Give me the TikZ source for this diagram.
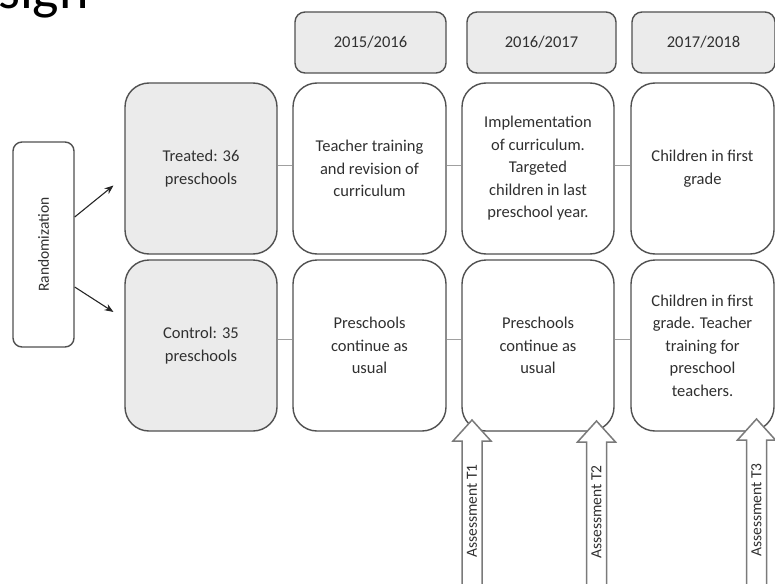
\documentclass[tikz,border=0pt]{standalone}
\usepackage{fontspec}
\setmainfont{Carlito}
\usetikzlibrary{arrows.meta}
\definecolor{bordc}{HTML}{505050}
\definecolor{grayfill}{HTML}{EBEBEB}
\definecolor{linkc}{HTML}{A0A0A0}
\definecolor{txtc}{HTML}{303030}
\definecolor{assc}{HTML}{7A7A7A}
\begin{document}
\begin{tikzpicture}[x=1pt,y=-1pt,
  txt/.style={text=txtc, font=\fontsize{16.5}{22.5}\selectfont},
  bigbox/.style={txt, draw=bordc, line width=1.4pt, rounded corners=24pt, align=center, inner sep=0pt, minimum height=171pt},
  graybox/.style={bigbox, fill=grayfill, minimum width=152pt},
  whitebox/.style={bigbox, fill=white},
  headbox/.style={txt, draw=bordc, line width=1.4pt, rounded corners=10pt, fill=grayfill, inner sep=0pt, minimum height=61pt},
  randbox/.style={txt, draw=bordc, line width=1.4pt, rounded corners=9pt, fill=white, inner sep=0pt, minimum width=61pt, minimum height=205pt},
  link/.style={draw=linkc, line width=1pt},
  splitarrow/.style={draw=black!85, line width=1.1pt, -{Stealth[length=9pt,width=7pt]}},
  assline/.style={draw=assc, line width=1.5pt, fill=white},
  asstxt/.style={text=txtc, font=\fontsize{15.5}{18}\selectfont, rotate=90},
  titletxt/.style={font=\fontsize{56}{60}\selectfont, text=black, inner sep=0pt}
]
\useasboundingbox (0,0) rectangle (775,583);
\clip (0,0) rectangle (775,583);

% title fragment
\node[titletxt, anchor=base west] (title) at (-2,9) {sign};

% header boxes
\node[headbox, minimum width=151pt] (h1) at (370.5,42.5) {2015/2016};
\node[headbox, minimum width=149pt] (h2) at (541.5,42.5) {2016/2017};
\node[headbox, minimum width=143pt] (h3) at (703.5,42.5) {2017/2018};

% randomization
\node[randbox] (rand) at (43.5,244.5) {};
\node[txt, rotate=90, font=\fontsize{15.5}{18}\selectfont] (randlab) at (rand.center) {Randomization};

% row 1
\node[graybox, align=center] (treated) at (201,168.5) {Treated: 36\\preschools};
\node[whitebox, minimum width=153pt] (t1) at (369.5,168.5) {Teacher training\\and revision of\\curriculum};
\node[whitebox, minimum width=152pt] (t2) at (538,168.5) {Implementation\\of curriculum.\\Targeted\\children in last\\preschool year.};
\node[whitebox, minimum width=143pt] (t3) at (702.5,168.5) {Children in first\\grade};

% row 2
\node[graybox] (control) at (201,345.5) {Control: 35\\preschools};
\node[whitebox, minimum width=153pt] (c1) at (369.5,345.5) {Preschools\\continue as\\usual};
\node[whitebox, minimum width=152pt] (c2) at (538,345.5) {Preschools\\continue as\\usual};
\node[whitebox, minimum width=143pt] (c3) at (702.5,345.5) {Children in first\\grade. Teacher\\training for\\preschool\\teachers.};

% links
\draw[link] ([yshift=3.5pt]treated.east) -- ([yshift=3.5pt]t1.west);
\draw[link] ([yshift=3.5pt]t1.east) -- ([yshift=3.5pt]t2.west);
\draw[link] ([yshift=3.5pt]t2.east) -- ([yshift=3.5pt]t3.west);
\draw[link] ([yshift=6pt]control.east) -- ([yshift=6pt]c1.west);
\draw[link] ([yshift=6pt]c1.east) -- ([yshift=6pt]c2.west);
\draw[link] ([yshift=6pt]c2.east) -- ([yshift=6pt]c3.west);

% randomization arrows
\coordinate (toT) at (113.5,185.5);
\coordinate (toC) at (113.5,312);
\draw[splitarrow] ([yshift=27.5pt]rand.east) -- (toT);
\draw[splitarrow] ([yshift=-42.5pt]rand.east) -- (toC);

% assessment arrows
\foreach \cx/\tip/\lab/\nm in {472/420/T1/a1, 596.5/421/T2/a2, 756.5/419/T3/a3}{
  \begin{scope}[shift={(\cx,\tip)}]
    \draw[assline] (-10,200) -- (-10,21) -- (-19,21) -- (0,0) -- (19,21) -- (10,21) -- (10,200);
    \node[asstxt] (\nm) at (0,91) {Assessment \lab};
  \end{scope}
}
\end{tikzpicture}
\end{document}
